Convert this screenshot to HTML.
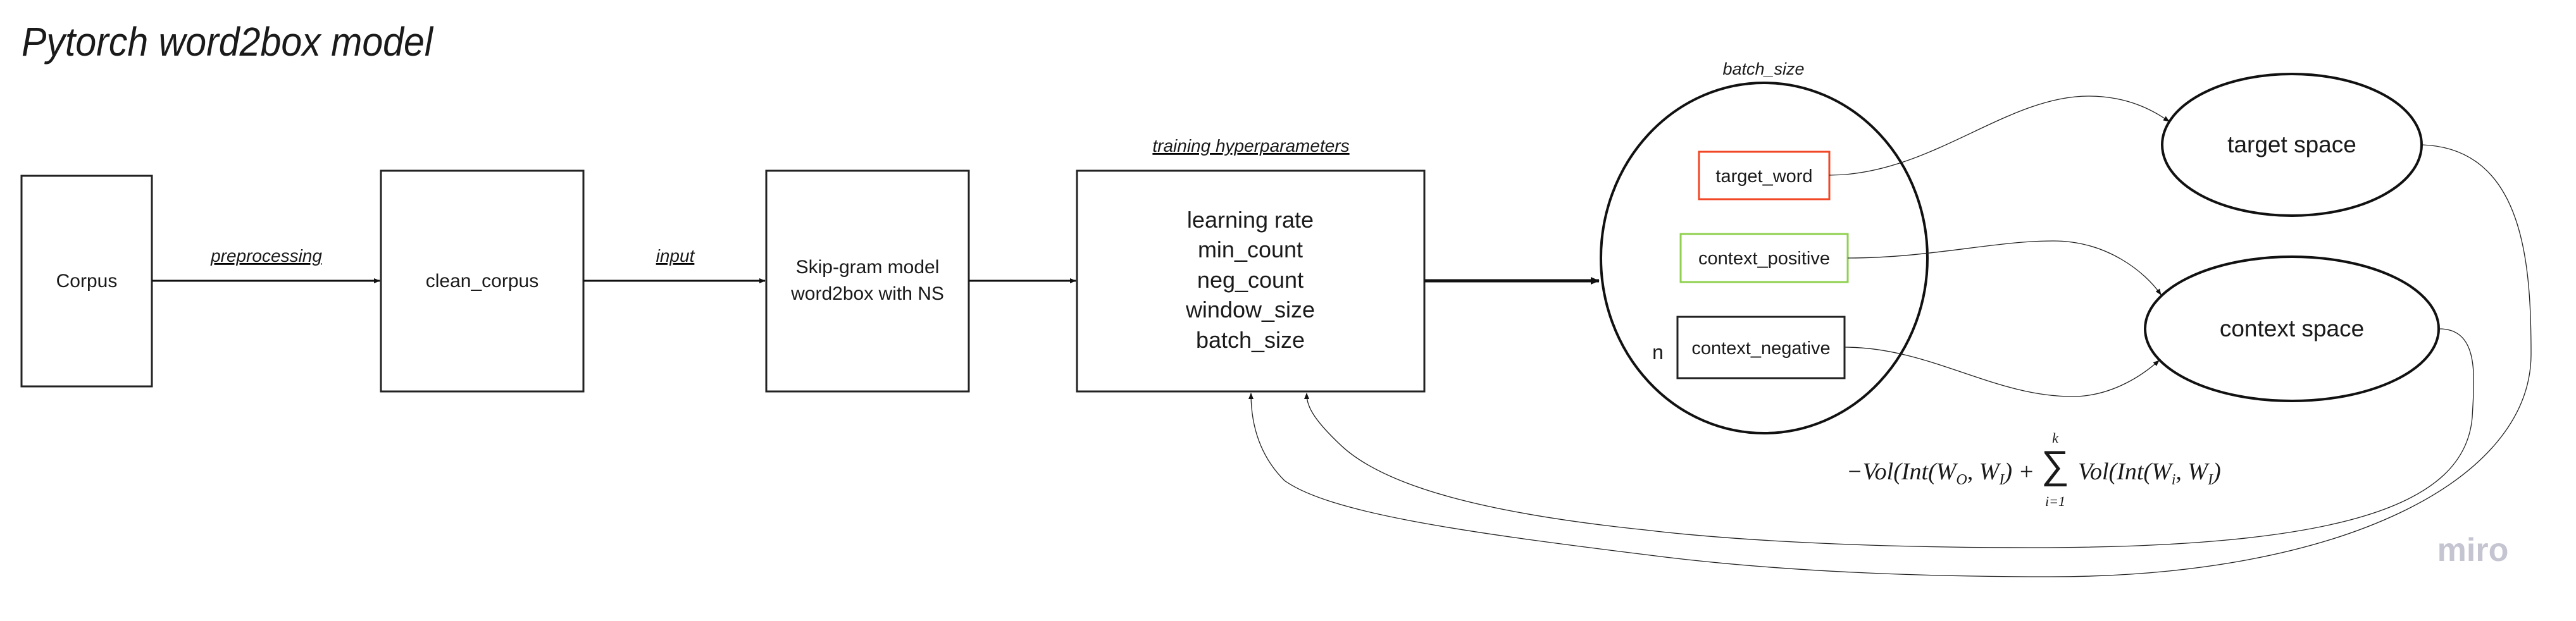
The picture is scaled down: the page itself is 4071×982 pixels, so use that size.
<!DOCTYPE html>
<html><head><meta charset="utf-8"><style>
html,body{margin:0;padding:0;background:#fff;}
svg{display:block;}
text{font-family:"Liberation Sans",sans-serif;fill:#1a1a1a;}
.m{font-family:"Liberation Serif",serif;font-style:italic;}
</style></head><body>
<svg width="4071" height="982" viewBox="0 0 4071 982" xmlns="http://www.w3.org/2000/svg">
<defs>
<marker id="a" markerWidth="10" markerHeight="10" refX="9" refY="5" orient="auto" markerUnits="userSpaceOnUse"><path d="M0,1 L10,5 L0,9 z" fill="#111"/></marker>
<marker id="b" markerWidth="14" markerHeight="14" refX="13" refY="7" orient="auto" markerUnits="userSpaceOnUse"><path d="M0,1 L14,7 L0,13 z" fill="#111"/></marker>
</defs>
<text x="34" y="88" font-size="64" font-style="italic" textLength="650" lengthAdjust="spacingAndGlyphs">Pytorch word2box model</text>

<g fill="none" stroke="#222" stroke-width="3">
<rect x="34" y="278" width="206" height="333"/>
<rect x="602" y="270" width="320" height="349"/>
<rect x="1211" y="270" width="320" height="349"/>
<rect x="1702" y="270" width="549" height="349"/>
</g>
<text x="137" y="454" font-size="30" text-anchor="middle">Corpus</text>
<text x="762" y="454" font-size="30" text-anchor="middle">clean_corpus</text>
<text x="1371" y="432" font-size="30" text-anchor="middle">Skip-gram model</text>
<text x="1371" y="474" font-size="30" text-anchor="middle">word2box with NS</text>
<g font-size="36" text-anchor="middle">
<text x="1976" y="360">learning rate</text>
<text x="1976" y="407">min_count</text>
<text x="1976" y="455">neg_count</text>
<text x="1976" y="502">window_size</text>
<text x="1976" y="550">batch_size</text>
</g>
<g font-size="28" font-style="italic" text-anchor="middle" text-decoration="underline">
<text x="421" y="414">preprocessing</text>
<text x="1067" y="414">input</text>
<text x="1977" y="240">training hyperparameters</text>
</g>
<text x="2787" y="118" font-size="27" font-style="italic" text-anchor="middle">batch_size</text>

<g stroke="#111" fill="none">
<line x1="240" y1="444" x2="600" y2="444" stroke-width="3" marker-end="url(#a)"/>
<line x1="922" y1="444" x2="1209" y2="444" stroke-width="3" marker-end="url(#a)"/>
<line x1="1531" y1="444" x2="1700" y2="444" stroke-width="3" marker-end="url(#a)"/>
<line x1="2251" y1="444" x2="2527" y2="444" stroke-width="5" marker-end="url(#b)"/>
</g>

<ellipse cx="2788" cy="408" rx="258" ry="277" fill="none" stroke="#111" stroke-width="4"/>
<rect x="2685" y="240" width="206" height="75" fill="none" stroke="#f24726" stroke-width="3"/>
<rect x="2656" y="370" width="264" height="76" fill="none" stroke="#8fd14f" stroke-width="3"/>
<rect x="2651" y="501" width="264" height="97" fill="none" stroke="#222" stroke-width="3"/>
<text x="2788" y="288" font-size="29" text-anchor="middle">target_word</text>
<text x="2788" y="418" font-size="29" text-anchor="middle">context_positive</text>
<text x="2783" y="560" font-size="29" text-anchor="middle">context_negative</text>
<text x="2620" y="568" font-size="32" text-anchor="middle">n</text>

<ellipse cx="3622" cy="229" rx="205" ry="112" fill="none" stroke="#111" stroke-width="4"/>
<ellipse cx="3622" cy="520" rx="232" ry="114" fill="none" stroke="#111" stroke-width="4"/>
<text x="3622" y="241" font-size="37" text-anchor="middle">target space</text>
<text x="3622" y="532" font-size="37" text-anchor="middle">context space</text>

<g stroke="#222" stroke-width="1.3" fill="none">
<path d="M2891 277 C3050 277,3170 152,3300 152 C3370 152,3410 180,3428 192" marker-end="url(#a)"/>
<path d="M2920 408 C3050 408,3150 381,3245 381 C3330 381,3390 430,3415 466" marker-end="url(#a)"/>
<path d="M2915 549 C3050 549,3150 627,3275 627 C3340 627,3390 590,3412 570" marker-end="url(#a)"/>
<path d="M3828 229 C3990 235,4000 420,4000 560 C4000 760,3700 912,3240 912 C2900 912,2700 890,2600 877 C2300 840,2100 810,2030 760 C1985 715,1977 660,1977 622" marker-end="url(#a)"/>
<path d="M3855 520 C3920 520,3910 600,3907 660 C3895 800,3700 866,3210 866 C2900 866,2700 850,2600 838 C2350 812,2190 770,2120 705 C2072 660,2065 640,2065 622" marker-end="url(#a)"/>
</g>

<text class="m" x="2918" y="758" font-size="38">−Vol(Int(W<tspan font-size="24" dy="8">O</tspan><tspan dy="-8">, W</tspan><tspan font-size="24" dy="8">I</tspan><tspan dy="-8">) +</tspan></text>
<text x="3248" y="756" font-size="62" font-family="Liberation Serif,serif" text-anchor="middle">∑</text>
<text class="m" x="3248" y="700" font-size="22" text-anchor="middle">k</text>
<text class="m" x="3248" y="800" font-size="22" text-anchor="middle">i=1</text>
<text class="m" x="3284" y="758" font-size="38">Vol(Int(W<tspan font-size="24" dy="8">i</tspan><tspan dy="-8">, W</tspan><tspan font-size="24" dy="8">I</tspan><tspan dy="-8">)</tspan></text>

<text x="3908" y="887" font-size="52" font-weight="bold" text-anchor="middle" style="fill:#c5c5d2">miro</text>
</svg>
</body></html>
